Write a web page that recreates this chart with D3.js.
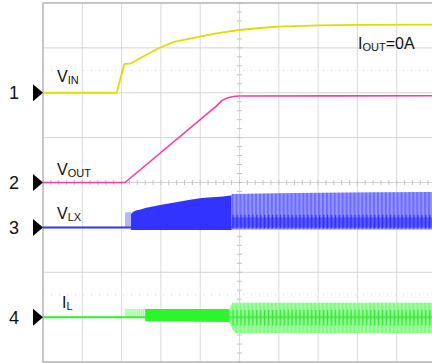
<!DOCTYPE html>
<html>
<head>
<meta charset="utf-8">
<script src="https://cdn.jsdelivr.net/npm/d3@7"></script>
<style>
  html, body { margin: 0; padding: 0; background: #fff; }
  svg { display: block; }
  text { font-family: Arial, "Liberation Sans", sans-serif; fill: #111; }
</style>
</head>
<body>
<svg id="scope" width="432" height="363"></svg>
<script>
// Screen: 10 horizontal divisions (time) by 8 vertical divisions.
// Every trace value is given in divisions above its channel marker.
const channelNames = ["1", "2", "3", "4"];
const channelOffsets = [2, 0, -1, -3];          // marker level of each channel, in divisions
const channelColors = ["#dede00", "#ff3aa0", "#3333ff", "#2cf52c"];

// CH1: input voltage step and slow settling [time div, level div]
const vinTrace = [
  [0, 0], [1.875, 0], [2.069, 0.641], [2.239, 0.656], [2.595, 0.830],
  [2.977, 1.008], [3.359, 1.138], [3.995, 1.253], [4.402, 1.325],
  [4.987, 1.398], [5.522, 1.443], [5.980, 1.472], [6.997, 1.503],
  [7.990, 1.514], [10, 1.516]
];

// CH2: output voltage soft-start ramp
const voutTrace = [
  [0, 0], [2.087, 0], [4.402, 1.698], [4.560, 1.830], [4.700, 1.890],
  [4.850, 1.918], [4.987, 1.928], [7.5, 1.930], [10, 1.934]
];

// CH3: switch node, envelopes [time div, top div, bottom div]
const vlxBaseline = [[0, 0], [10, 0]];
const vlxStartup = [[2.087, 0.330, 0], [2.24, 0.345, 0]];
const vlxDense = [
  [2.24, 0.300, -0.058], [2.30, 0.350, -0.058], [2.48, 0.400, -0.058],
  [2.98, 0.499, -0.058], [3.49, 0.577, -0.058], [3.995, 0.648, -0.058],
  [4.40, 0.677, -0.058], [4.76, 0.711, -0.058], [4.80, 0.718, -0.058]
];
const vlxSteady = [[4.80, 0.744, -0.05], [7.0, 0.77, -0.05], [10, 0.79, -0.05]];

// CH4: inductor current, envelopes [time div, top div, bottom div]
const ilBaseline = [[0, 0], [10, 0]];
const ilStartup = [[2.087, 0.18, 0], [2.60, 0.18, 0]];
const ilDense = [[2.60, 0.18, -0.09], [4.74, 0.18, -0.11]];
const ilSteady = [[4.74, 0.18, -0.10], [4.84, 0.32, -0.30], [4.92, 0.32, -0.354], [10, 0.32, -0.354]];

// Annotations
const traceLabels = [
  { ch: 0, main: "V", sub: "IN", dy: 0.23 },
  { ch: 1, main: "V", sub: "OUT", dy: 0.17 },
  { ch: 2, main: "V", sub: "LX", dy: 0.18 },
  { ch: 3, main: "I", sub: "L", dy: 0.20 }
];
const loadNote = { main: "I", sub: "OUT", rest: "=0A" };

const switchPeriod = 0.1;   // divisions per switching cycle

const svg = d3.select("#scope");
const x = d3.scaleLinear().domain([0, 10]).range([43, 436]);
const y = d3.scaleLinear().domain([-4, 4]).range([362, 3]);
const ch = (c, v) => y(channelOffsets[c] + v);

// ---- graticule ----
const grid = svg.append("g");
const xTicks = d3.range(1, 10);
const yTicks = d3.range(-3, 4);
grid.selectAll("line.v").data(xTicks).join("line")
  .attr("x1", d => x(d)).attr("x2", d => x(d))
  .attr("y1", y(4)).attr("y2", y(-4))
  .attr("stroke", "#dadada").attr("stroke-width", 1);
grid.selectAll("line.h").data(yTicks).join("line")
  .attr("x1", x(0)).attr("x2", x(10))
  .attr("y1", d => y(d)).attr("y2", d => y(d))
  .attr("stroke", "#d4d4d4").attr("stroke-width", 1);
grid.selectAll("line.half").data([2.5, -2.5]).join("line")
  .attr("x1", x(0)).attr("x2", x(10))
  .attr("y1", d => y(d)).attr("y2", d => y(d))
  .attr("stroke", "#cfcfcf").attr("stroke-width", 1)
  .attr("stroke-dasharray", "1,7");
// minor ticks on centre axes
grid.selectAll("line.mty").data(d3.range(-4, 4.001, 0.2)).join("line")
  .attr("x1", x(5) - 2.5).attr("x2", x(5) + 2.5)
  .attr("y1", d => y(d)).attr("y2", d => y(d))
  .attr("stroke", "#c4c4c4");
grid.selectAll("line.mtx").data(d3.range(0, 10.001, 0.2)).join("line")
  .attr("x1", d => x(d)).attr("x2", d => x(d))
  .attr("y1", y(0) - 2.5).attr("y2", y(0) + 2.5)
  .attr("stroke", "#c4c4c4");
// frame
grid.append("rect")
  .attr("x", x(0)).attr("y", y(4))
  .attr("width", x(10) - x(0)).attr("height", y(-4) - y(4))
  .attr("fill", "none").attr("stroke", "#b4b4b4").attr("stroke-width", 1.5);

// ---- stripe patterns for the switching bands ----
const defs = svg.append("defs");
const periodPx = x(switchPeriod) - x(0);

function bandPattern(id, c, light, mid, dark, spikeTop, spikeBot, lineTop, lineBot) {
  const p = defs.append("pattern").attr("id", id)
    .attr("patternUnits", "userSpaceOnUse")
    .attr("x", x(0)).attr("y", 0)
    .attr("width", periodPx).attr("height", 363);
  p.append("rect").attr("width", periodPx).attr("height", 363).attr("fill", light);
  p.append("rect").attr("width", periodPx * 0.45).attr("height", 363).attr("fill", mid);
  p.append("rect").attr("x", 0).attr("width", periodPx)
    .attr("y", ch(c, lineTop)).attr("height", ch(c, lineBot) - ch(c, lineTop))
    .attr("fill", dark).attr("opacity", 0.45);
  p.append("rect").attr("x", periodPx * 0.3).attr("width", 1.1)
    .attr("y", ch(c, spikeTop)).attr("height", ch(c, spikeBot) - ch(c, spikeTop))
    .attr("fill", dark);
}
bandPattern("lxBand", 2, "#9494ff", "#6868ff", "#2323ff", 0.28, -0.02, 0.22, 0.0);
bandPattern("ilBand", 3, "#a3ffa3", "#7cfb7c", "#22e022", 0.16, -0.18, 0.03, -0.03);

function sparsePattern(id, color) {
  const p = defs.append("pattern").attr("id", id)
    .attr("patternUnits", "userSpaceOnUse")
    .attr("x", x(0)).attr("y", 0)
    .attr("width", periodPx * 0.5).attr("height", 363);
  p.append("rect").attr("width", periodPx * 0.5).attr("height", 363).attr("fill", color).attr("opacity", 0.18);
  p.append("rect").attr("width", 0.9).attr("height", 363).attr("fill", color).attr("opacity", 0.6);
}
sparsePattern("lxSparse", "#4a4aff");
sparsePattern("ilSparse", "#44ff44");

// ---- traces ----
const line = c => d3.line().x(d => x(d[0])).y(d => ch(c, d[1]));
const area = c => d3.area().x(d => x(d[0])).y0(d => ch(c, d[2])).y1(d => ch(c, d[1]))
  .curve(d3.curveMonotoneX);
const traces = svg.append("g");

// CH3 switch node
traces.append("path").datum(vlxBaseline).attr("d", line(2))
  .attr("fill", "none").attr("stroke", channelColors[2]).attr("stroke-width", 2);
traces.append("path").datum(vlxStartup).attr("d", area(2)).attr("fill", "url(#lxSparse)");
traces.append("path").datum(vlxDense).attr("d", area(2)).attr("fill", channelColors[2]);
traces.append("path").datum(vlxSteady).attr("d", area(2)).attr("fill", "url(#lxBand)");

// CH4 inductor current
traces.append("path").datum(ilBaseline).attr("d", line(3))
  .attr("fill", "none").attr("stroke", channelColors[3]).attr("stroke-width", 2);
traces.append("path").datum(ilStartup).attr("d", area(3)).attr("fill", "url(#ilSparse)");
traces.append("path").datum(ilDense).attr("d", area(3)).attr("fill", channelColors[3]);
traces.append("path").datum(ilSteady).attr("d", area(3)).attr("fill", "url(#ilBand)");

// CH2 output voltage (straight ramp, rounded only at the top knee)
traces.append("path").datum(voutTrace).attr("d", line(1))
  .attr("fill", "none").attr("stroke", channelColors[1]).attr("stroke-width", 1.6)
  .attr("stroke-linejoin", "round");

// CH1 input voltage
traces.append("path").datum(vinTrace).attr("d", line(0))
  .attr("fill", "none").attr("stroke", channelColors[0]).attr("stroke-width", 1.8)
  .attr("stroke-linejoin", "round");

// ---- channel markers ----
const markers = svg.append("g");
channelNames.forEach((name, i) => {
  const yy = ch(i, 0);
  markers.append("path")
    .attr("d", `M${x(0) - 10},${yy - 8.5}L${x(0)},${yy}L${x(0) - 10},${yy + 8.5}Z`)
    .attr("fill", "#000");
  markers.append("text").attr("x", 9).attr("y", yy + 6.5)
    .attr("font-size", 18).text(name);
});

// ---- trace labels ----
traceLabels.forEach(l => {
  const t = svg.append("text")
    .attr("x", l.main === "I" ? 62 : 57)
    .attr("y", ch(l.ch, l.dy))
    .attr("font-size", 16);
  t.append("tspan").text(l.main);
  t.append("tspan").attr("font-size", 11).attr("dy", 2).text(l.sub);
});

const note = svg.append("text").attr("x", 358).attr("y", 49).attr("font-size", 16);
note.append("tspan").text(loadNote.main);
note.append("tspan").attr("font-size", 11).attr("dy", 2).text(loadNote.sub);
note.append("tspan").attr("dy", -2).text(loadNote.rest);
</script>
</body>
</html>
